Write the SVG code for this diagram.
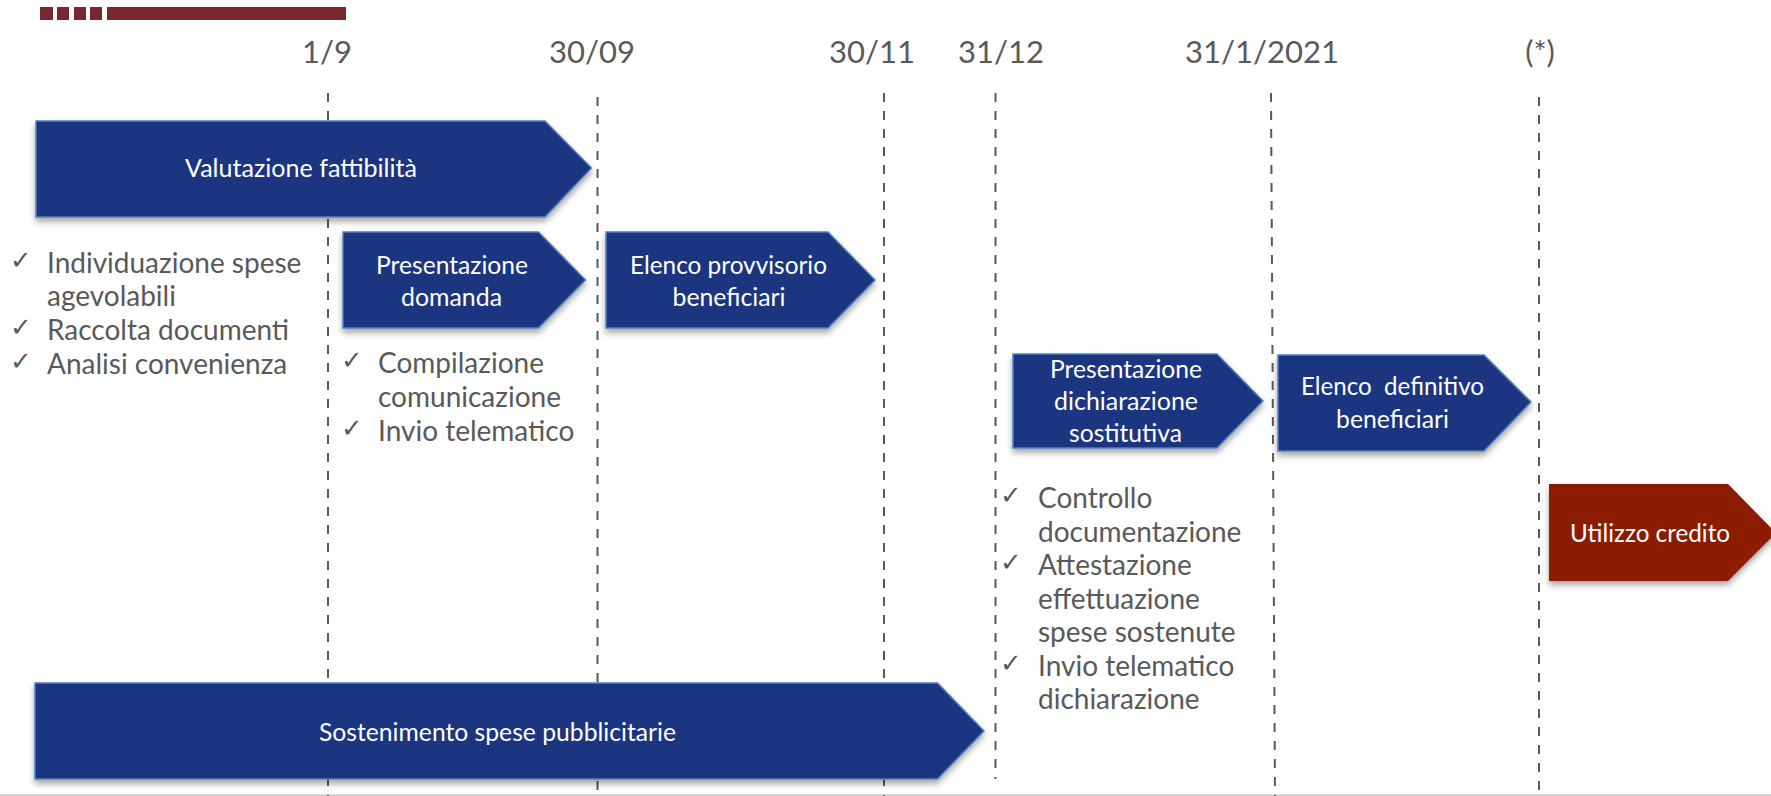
<svg xmlns="http://www.w3.org/2000/svg" width="1771" height="796" viewBox="0 0 1771 796">
<defs>
<filter id="sh" x="-10%" y="-20%" width="120%" height="150%">
<feDropShadow dx="0" dy="4" stdDeviation="3" flood-color="#000" flood-opacity="0.35"/>
</filter>
<style>
.box{fill:#1F3680;stroke:#4F81BD;stroke-width:1.5;filter:url(#sh)}
.red{fill:#8C1A03;filter:url(#sh)}
.lbl{font-family:Lato,"Open Sans",sans-serif;font-size:25px;fill:#FFFFFF}
.date{font-family:Lato,"Open Sans",sans-serif;font-size:31px;fill:#595959;text-anchor:middle}
.bul{font-family:Lato,"Open Sans",sans-serif;font-size:28px;fill:#595959}
.chk{font-family:"DejaVu Sans",sans-serif;font-size:26px;fill:#595959}
.dash{stroke:#595959;stroke-width:2;stroke-dasharray:9 9;fill:none}
</style>
</defs>
<rect x="0" y="0" width="1771" height="796" fill="#FFFFFF"/>
<g id="header">
<rect x="40" y="7" width="13" height="13" fill="#7A2631"/>
<rect x="57" y="7" width="12" height="13" fill="#7A2631"/>
<rect x="74" y="7" width="12" height="13" fill="#7A2631"/>
<rect x="90" y="7" width="12" height="13" fill="#7A2631"/>
<rect x="107" y="7" width="239" height="13" fill="#7A2631"/>
</g>
<rect x="0" y="794" width="1771" height="2" fill="#D4D4D4"/>
<g id="dates">
<text class="date" x="327" y="63">1/9</text>
<text class="date" x="592" y="63">30/09</text>
<text class="date" x="872" y="63">30/11</text>
<text class="date" x="1001" y="63">31/12</text>
<text class="date" x="1262" y="63">31/1/2021</text>
<text class="date" x="1540" y="63">(*)</text>
</g>
<g id="connectors">
<line class="dash" x1="328" y1="93" x2="328" y2="796"/>
<line class="dash" x1="597.5" y1="97" x2="597.5" y2="796"/>
<line class="dash" x1="884" y1="93" x2="884" y2="796"/>
<line class="dash" x1="995.5" y1="93" x2="995.5" y2="779"/>
<line class="dash" x1="1271" y1="93" x2="1275" y2="796"/>
<line class="dash" x1="1539" y1="97" x2="1539" y2="796"/>
</g>
<g id="valutazione">
<polygon class="box" points="36,121 545,121 591.5,168 545,217 36,217"/>
<text class="lbl" x="185" y="177" textLength="232" lengthAdjust="spacingAndGlyphs">Valutazione fattibilità</text>
</g>
<g id="presentazione-domanda">
<polygon class="box" points="343,232 538.5,232 585.5,280 538.5,328 343,328"/>
<text class="lbl" x="376" y="274" textLength="152" lengthAdjust="spacingAndGlyphs">Presentazione</text>
<text class="lbl" x="401" y="306" textLength="101" lengthAdjust="spacingAndGlyphs">domanda</text>
</g>
<g id="elenco-provvisorio">
<polygon class="box" points="606,232 828,232 875,280 828,328 606,328"/>
<text class="lbl" x="630" y="274" textLength="197" lengthAdjust="spacingAndGlyphs">Elenco provvisorio</text>
<text class="lbl" x="672.5" y="306" textLength="113" lengthAdjust="spacingAndGlyphs">beneficiari</text>
</g>
<g id="presentazione-dichiarazione">
<polygon class="box" points="1013,354 1217,354 1263,401 1217,448 1013,448"/>
<text class="lbl" x="1050" y="378" textLength="152" lengthAdjust="spacingAndGlyphs">Presentazione</text>
<text class="lbl" x="1054" y="410" textLength="144" lengthAdjust="spacingAndGlyphs">dichiarazione</text>
<text class="lbl" x="1069" y="442" textLength="113" lengthAdjust="spacingAndGlyphs">sostitutiva</text>
</g>
<g id="elenco-definitivo">
<polygon class="box" points="1278,355 1484,355 1531,402 1484,451 1278,451"/>
<text class="lbl" x="1301" y="395" textLength="183" lengthAdjust="spacingAndGlyphs" xml:space="preserve">Elenco  definitivo</text>
<text class="lbl" x="1336" y="428" textLength="113" lengthAdjust="spacingAndGlyphs">beneficiari</text>
</g>
<g id="utilizzo-credito">
<polygon class="red" points="1549,484 1728,484 1776,533 1728,581 1549,581"/>
<text class="lbl" x="1570" y="542" textLength="160" lengthAdjust="spacingAndGlyphs">Utilizzo credito</text>
</g>
<g id="sostenimento">
<polygon class="box" points="35,683 937.5,683 984,731 937.5,779 35,779"/>
<text class="lbl" x="319" y="741" textLength="357" lengthAdjust="spacingAndGlyphs">Sostenimento spese pubblicitarie</text>
</g>
<g id="bullets-valutazione">
<text class="chk" x="10" y="269">✓</text>
<text class="bul" x="47" y="273">Individuazione spese</text>
<text class="bul" x="47" y="306">agevolabili</text>
<text class="chk" x="10" y="336">✓</text>
<text class="bul" x="47" y="340">Raccolta documenti</text>
<text class="chk" x="10" y="370">✓</text>
<text class="bul" x="47" y="374">Analisi convenienza</text>
</g>
<g id="bullets-domanda">
<text class="chk" x="341" y="369">✓</text>
<text class="bul" x="378" y="373">Compilazione</text>
<text class="bul" x="378" y="407">comunicazione</text>
<text class="chk" x="341" y="437">✓</text>
<text class="bul" x="378" y="441">Invio telematico</text>
</g>
<g id="bullets-dichiarazione">
<text class="chk" x="1000" y="504">✓</text>
<text class="bul" x="1038" y="508">Controllo</text>
<text class="bul" x="1038" y="542">documentazione</text>
<text class="chk" x="1000" y="571">✓</text>
<text class="bul" x="1038" y="575">Attestazione</text>
<text class="bul" x="1038" y="609">effettuazione</text>
<text class="bul" x="1038" y="642">spese sostenute</text>
<text class="chk" x="1000" y="672">✓</text>
<text class="bul" x="1038" y="676">Invio telematico</text>
<text class="bul" x="1038" y="709">dichiarazione</text>
</g>
</svg>
